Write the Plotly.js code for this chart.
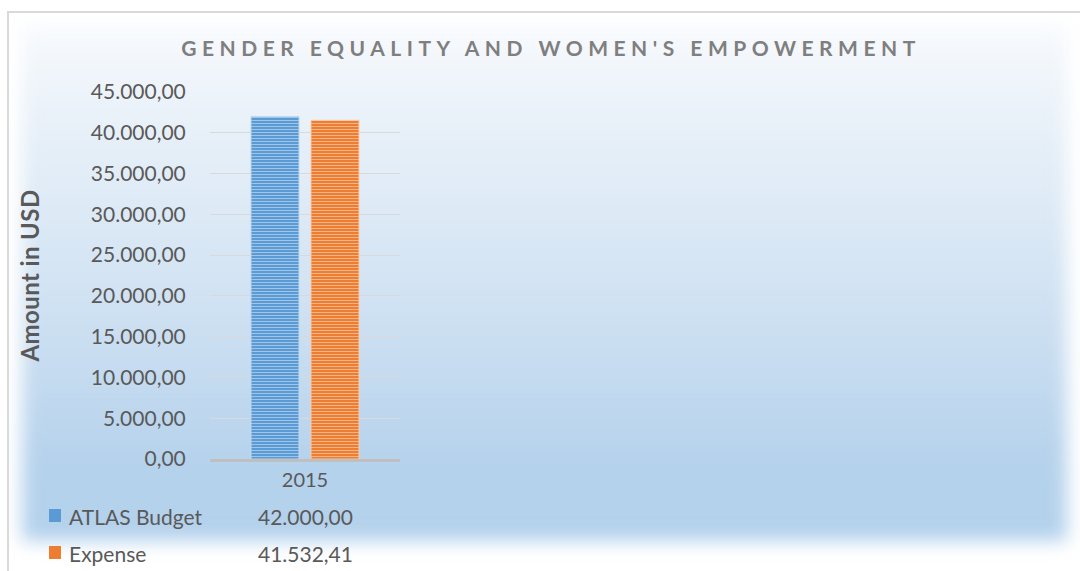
<!DOCTYPE html>
<html>
<head>
<meta charset="utf-8">
<script src="https://cdn.plot.ly/plotly-3.0.1.min.js"></script>
<style>
  html, body { margin: 0; padding: 0; background: #ffffff; width: 1080px; height: 571px; overflow: hidden; }
  #frame { position: absolute; left: 7px; top: 11px; width: 1100px; height: 600px; border: 2px solid #d9d9d9; box-sizing: border-box; background: #ffffff; overflow: hidden; }
  #fill { position: absolute; left: 13px; top: 12px; width: 1045px; height: 516px;
          background: linear-gradient(to bottom, #f8fafd 0%, #ebf2f9 15%, #dae8f5 40%, #c7dcf0 65%, #b5d2ec 85%, #b3d1ec 100%);
          filter: blur(9px); }
  #chart { position: absolute; left: 0; top: 0; width: 1080px; height: 571px; }
  .gtitle { letter-spacing: 5.5px; }
  .ytitle { letter-spacing: 0.4px; }
</style>
</head>
<body>
<div id="frame"><div id="fill"></div></div>
<div id="chart"></div>
<script>
// ---- data ----
const categories = ["2015"];
const seriesNames = ["ATLAS Budget", "Expense"];
const atlasBudget = [42000.00];
const expense = [41532.41];
const yTickValues = [0, 5000, 10000, 15000, 20000, 25000, 30000, 35000, 40000, 45000];
const seriesColors = ["#5b9bd5", "#ed7d31"];
const stripeColors = ["#bdd7ee", "#f8cbad"];

function fmt(v) {
  const parts = v.toFixed(2).split(".");
  parts[0] = parts[0].replace(/\B(?=(\d{3})+(?!\d))/g, ".");
  return parts[0] + "," + parts[1];
}

const seriesValues = [atlasBudget, expense];
const traces = seriesNames.map((name, i) => ({
  type: "bar",
  name: name,
  x: categories,
  y: seriesValues[i],
  marker: {
    color: seriesColors[i],
    line: { color: stripeColors[i], width: 1 },
    pattern: { shape: "-", fillmode: "overlay", fgcolor: stripeColors[i], fgopacity: 0.7, size: 3, solidity: 0.35 }
  },
  hoverinfo: "skip"
}));

const font = "Lato, 'Open Sans', sans-serif";
const txt = "#595959";

// plot area: x 210..400, y 92..459
const plotTop = 92, plotBottom = 459, plotLeft = 210, plotRight = 400;
const ph = plotBottom - plotTop, pw = plotRight - plotLeft;
const py = (pix) => (plotBottom - pix) / ph;
const px = (pix) => (pix - plotLeft) / pw;

const rowY = [516, 553];
const annotations = [];
const shapes = [];
seriesNames.forEach((name, i) => {
  annotations.push({
    xref: "paper", yref: "paper", x: px(67), y: py(rowY[i]),
    xanchor: "left", yanchor: "middle", showarrow: false,
    text: name, font: { family: font, size: 21, color: txt }
  });
  categories.forEach((c, j) => {
    annotations.push({
      xref: "x", yref: "paper", x: j, y: py(rowY[i]),
      xanchor: "center", yanchor: "middle", showarrow: false,
      text: fmt(seriesValues[i][j]), font: { family: font, size: 21, color: txt }
    });
  });
  shapes.push({
    type: "rect", xref: "paper", yref: "paper",
    x0: px(49), x1: px(61), y0: py(rowY[i] - 7), y1: py(rowY[i] + 6),
    fillcolor: seriesColors[i], line: { width: 0 }
  });
});

const layout = {
  width: 1080, height: 571,
  margin: { l: plotLeft, r: 1080 - plotRight, t: plotTop, b: 571 - plotBottom, pad: 0 },
  paper_bgcolor: "rgba(0,0,0,0)",
  plot_bgcolor: "rgba(0,0,0,0)",
  separators: ",.",
  showlegend: false,
  barmode: "group",
  bargap: 0.3684,
  bargroupgap: 0.2,
  title: {
    text: "GENDER EQUALITY AND WOMEN'S EMPOWERMENT",
    font: { family: font, size: 21, color: "#7f7f7f", weight: "bold" },
    x: 551 / 1080, xref: "container", xanchor: "center",
    y: 1 - 49 / 571, yref: "container", yanchor: "middle"
  },
  xaxis: {
    type: "category",
    range: [-0.5, 0.5],
    showline: true, linecolor: "#bfbfbf", linewidth: 3,
    showgrid: false, zeroline: false,
    ticks: "outside", ticklen: 1, tickcolor: "rgba(0,0,0,0)",
    tickfont: { family: font, size: 20, color: txt }
  },
  yaxis: {
    range: [0, 45000],
    tickvals: yTickValues,
    tickformat: ",.2f",
    showgrid: true, gridcolor: "#d9d9d9", gridwidth: 1,
    zeroline: false, showline: false,
    ticks: "outside", ticklen: 19, tickcolor: "rgba(0,0,0,0)",
    tickfont: { family: font, size: 21, color: txt },
    title: { text: "Amount in USD", font: { family: font, size: 24, color: txt, weight: "bold" }, standoff: 44 }
  },
  annotations: annotations,
  shapes: shapes
};

Plotly.newPlot("chart", traces, layout, { staticPlot: true, displayModeBar: false });
</script>
</body>
</html>
